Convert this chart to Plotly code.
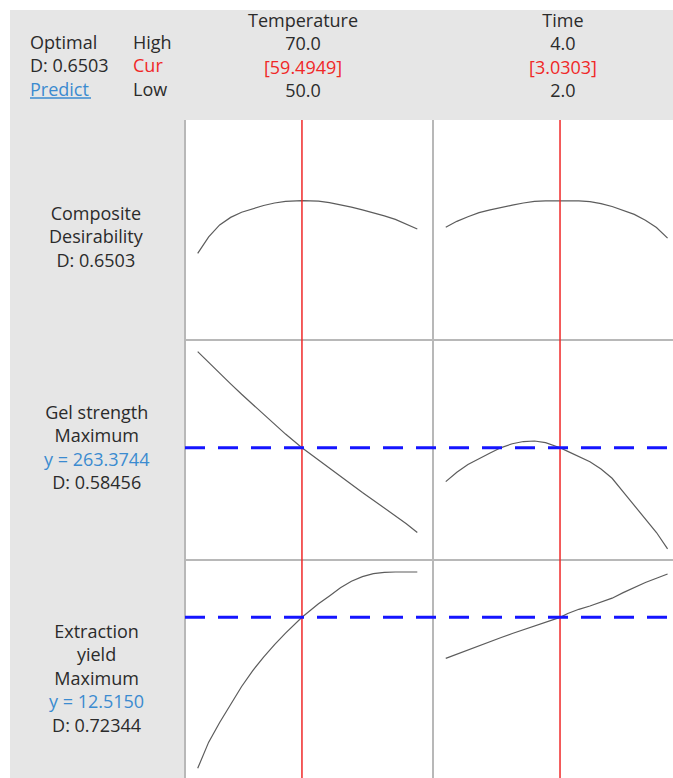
import plotly.graph_objects as go

# ---- factor settings ----
factor_names = ["Temperature", "Time"]
factor_high = [70.0, 4.0]
factor_low = [50.0, 2.0]
factor_cur = [59.4949, 3.0303]

# ---- predicted responses along Temperature (Time held at current) ----
temp_grid = [50, 51, 52, 53, 54, 55, 56, 57, 58, 59.4949,
             61, 62, 63, 64, 65, 66, 67, 68, 69, 70]
comp_vs_temp = [0.383, 0.466, 0.527, 0.565, 0.591, 0.610, 0.625, 0.638, 0.646, 0.6503,
                0.647, 0.640, 0.629, 0.617, 0.603, 0.589, 0.573, 0.555, 0.532, 0.506]
gel_vs_temp = [351.0, 341.0, 331.3, 321.6, 312.1, 302.8, 293.6, 284.6, 275.8, 263.3744,
               252.0, 244.5, 237.0, 229.5, 222.5, 215.5, 208.5, 201.5, 194.0, 186.0]
yield_vs_temp = [7.90, 8.70, 9.30, 9.85, 10.40, 10.88, 11.30, 11.68, 12.03, 12.515,
                 12.93, 13.17, 13.42, 13.62, 13.76, 13.85, 13.89, 13.90, 13.90, 13.90]

# ---- predicted responses along Time (Temperature held at current) ----
time_grid = [2.0, 2.1, 2.2, 2.3, 2.4, 2.5, 2.6, 2.7, 2.8, 2.9, 3.0303,
             3.1, 3.2, 3.3, 3.4, 3.5, 3.6, 3.7, 3.8, 3.9, 4.0]
comp_vs_time = [0.515, 0.545, 0.568, 0.589, 0.603, 0.616, 0.627, 0.638, 0.646, 0.649, 0.6503,
                0.650, 0.649, 0.645, 0.635, 0.620, 0.602, 0.580, 0.551, 0.514, 0.460]
gel_vs_time = [232.4, 241.0, 248.0, 253.5, 258.5, 263.5, 267.0, 269.0, 269.5, 268.0, 263.3744,
               260.0, 255.5, 250.5, 244.0, 235.5, 223.0, 211.0, 199.0, 186.0, 171.0]
yield_vs_time = [11.26, 11.39, 11.53, 11.66, 11.78, 11.90, 12.02, 12.14, 12.26, 12.38, 12.515,
                 12.63, 12.76, 12.86, 12.98, 13.10, 13.27, 13.43, 13.58, 13.71, 13.84]

# ---- optimum summary ----
composite_d = 0.6503
gel_y, gel_d = 263.3744, 0.58456
yield_y, yield_d = 12.5150, 0.72344

W, H = 673, 778
FONT = "Open Sans"
FONT_SIZE = 18
GRAY_BG = "#e6e6e6"
CURVE = "#5c5c5c"
RED = "#f02828"
BLUE_TXT = "#3b8bd0"
DASH_BLUE = "#1515ff"
SEP = "#b8b8b8"
TXT = "#2b2b2b"


def px(x):
    return x / W


def py(y):
    return 1 - y / H


def colored(text, color):
    return f"<span style='color:{color}'>{text}</span>"


# panel geometry (pixels)
col_x = [(185, 433), (433, 673)]
row_y = [(120, 340), (340, 560), (560, 778)]
x_ranges = [[48.843, 71.43], [1.885, 4.049]]
y_ranges = [[-0.0557, 1.058], [160.92, 361.63], [7.604, 14.267]]

curves = [
    [(temp_grid, comp_vs_temp), (time_grid, comp_vs_time)],
    [(temp_grid, gel_vs_temp), (time_grid, gel_vs_time)],
    [(temp_grid, yield_vs_temp), (time_grid, yield_vs_time)],
]

fig = go.Figure()
layout_axes = {}
for r in range(3):
    for c in range(2):
        k = r * 2 + c + 1
        sfx = "" if k == 1 else str(k)
        xs, ys = curves[r][c]
        fig.add_trace(go.Scatter(x=xs, y=ys, mode="lines",
                                 line=dict(color=CURVE, width=1.2),
                                 xaxis="x" + sfx, yaxis="y" + sfx,
                                 showlegend=False, hoverinfo="skip"))
        layout_axes["xaxis" + sfx] = dict(
            domain=[px(col_x[c][0]), px(col_x[c][1])], range=x_ranges[c],
            anchor="y" + sfx, showticklabels=False, showgrid=False,
            zeroline=False, showline=False, ticks="", fixedrange=True)
        layout_axes["yaxis" + sfx] = dict(
            domain=[py(row_y[r][1]), py(row_y[r][0])], range=y_ranges[r],
            anchor="x" + sfx, showticklabels=False, showgrid=False,
            zeroline=False, showline=False, ticks="", fixedrange=True)

shapes = []
# white outer strips
shapes.append(dict(type="rect", xref="paper", yref="paper", x0=0, x1=1,
                   y0=py(10), y1=1, fillcolor="white", line=dict(width=0)))
shapes.append(dict(type="rect", xref="paper", yref="paper", x0=0, x1=px(10),
                   y0=0, y1=1, fillcolor="white", line=dict(width=0)))
# panel separators
for xv in (185, 433):
    shapes.append(dict(type="line", xref="paper", yref="paper",
                       x0=px(xv), x1=px(xv), y0=0, y1=py(120),
                       line=dict(color=SEP, width=2)))
for yv in (340, 560):
    shapes.append(dict(type="line", xref="paper", yref="paper",
                       x0=px(185), x1=1, y0=py(yv), y1=py(yv),
                       line=dict(color=SEP, width=2)))
# current factor settings
for c, xname in enumerate(["x", "x2"]):
    shapes.append(dict(type="line", xref=xname, yref="paper",
                       x0=factor_cur[c], x1=factor_cur[c], y0=0, y1=py(120),
                       line=dict(color=RED, width=1.5)))
# predicted response at the optimum
for yname, yv in (("y3", gel_y), ("y5", yield_y)):
    shapes.append(dict(type="line", xref="paper", yref=yname,
                       x0=px(185), x1=1, y0=yv, y1=yv,
                       line=dict(color=DASH_BLUE, width=3, dash="20px,13px")))
# underline for "Predict"
shapes.append(dict(type="line", xref="paper", yref="paper",
                   x0=px(30), x1=px(91), y0=py(98), y1=py(98),
                   line=dict(color=BLUE_TXT, width=1.5)))

annotations = []


def block(lines, x, y, anchor="left"):
    annotations.append(dict(text="<br>".join(lines), x=px(x), y=py(y),
                            xref="paper", yref="paper", xanchor=anchor,
                            yanchor="middle", align=anchor, showarrow=False,
                            font=dict(family=FONT, size=FONT_SIZE, color=TXT)))


# top-left summary
block(["Optimal", f"D: {composite_d:.4f}", colored("Predict", BLUE_TXT)], 28, 65)
block(["High", colored("Cur", RED), "Low"], 131, 65)

# factor headers
col_centers = [303, 563]
for c in range(2):
    block([factor_names[c], f"{factor_high[c]:.1f}",
           colored(f"[{factor_cur[c]:.4f}]", RED), f"{factor_low[c]:.1f}"],
          col_centers[c], 55, anchor="center")

# response labels
block(["Composite", "Desirability", f"D: {composite_d:.4f}"], 96, 236.5, anchor="center")
block(["Gel strength", "Maximum", colored(f"y = {gel_y:.4f}", BLUE_TXT),
       f"D: {gel_d:.5f}"], 96, 447, anchor="center")
block(["Extraction", "yield", "Maximum", colored(f"y = {yield_y:.4f}", BLUE_TXT),
       f"D: {yield_d:.5f}"], 96, 678, anchor="center")

fig.update_layout(
    width=W, height=H,
    margin=dict(l=0, r=0, t=0, b=0, pad=0),
    paper_bgcolor=GRAY_BG, plot_bgcolor="white",
    shapes=shapes, annotations=annotations,
    showlegend=False, **layout_axes)

fig.write_html("out.html", config={"displayModeBar": False})
